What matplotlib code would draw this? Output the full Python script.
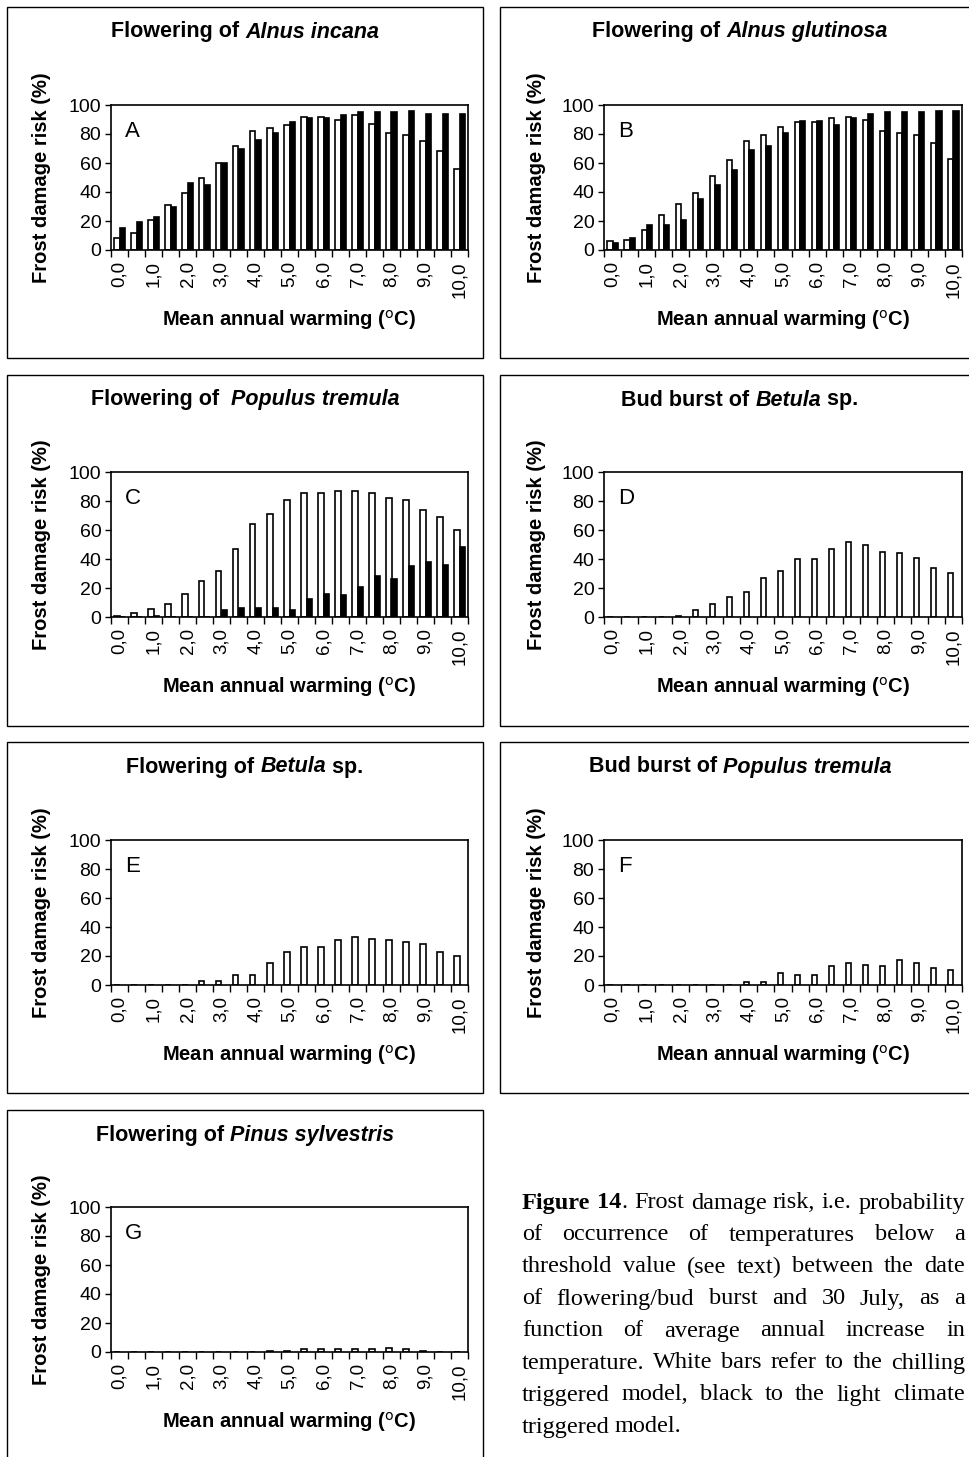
import matplotlib.pyplot as plt
from matplotlib.offsetbox import TextArea, HPacker, AnchoredOffsetbox
from matplotlib.patches import Rectangle

plt.rcParams['font.family'] = ['Liberation Sans', 'DejaVu Sans']

# mean annual warming, degC (21 categories)
warming = [0.0, 0.5, 1.0, 1.5, 2.0, 2.5, 3.0, 3.5, 4.0, 4.5, 5.0,
           5.5, 6.0, 6.5, 7.0, 7.5, 8.0, 8.5, 9.0, 9.5, 10.0]
tick_labels = ['0,0', '', '1,0', '', '2,0', '', '3,0', '', '4,0', '', '5,0',
               '', '6,0', '', '7,0', '', '8,0', '', '9,0', '', '10,0']

# white = chilling triggered model, black = light climate triggered model
alnus_inc_white = [8, 12, 21, 31, 39, 50, 60, 72, 82, 84, 86, 92, 92, 90, 93, 87, 81, 79, 75, 68, 56]
alnus_inc_black = [15, 19, 23, 30, 46, 45, 60, 70, 76, 81, 88, 91, 91, 93, 95, 95, 95, 96, 94, 94, 94]
alnus_glu_white = [6, 7, 14, 24, 32, 39, 51, 62, 75, 79, 85, 88, 88, 91, 92, 90, 82, 81, 79, 74, 63]
alnus_glu_black = [5, 8, 17, 17, 21, 35, 45, 55, 69, 72, 81, 89, 89, 86, 91, 94, 95, 95, 95, 96, 96]
populus_fl_white = [1, 3, 5.5, 9, 16, 24.5, 31.5, 47, 64, 71, 80.5, 85.5, 85.5, 87, 87, 85.5, 82, 80.5, 73.5, 69, 60]
populus_fl_black = [0, 0, 0.5, 0, 0, 0, 5, 6.5, 6.5, 6.5, 5, 12.5, 16, 15, 21, 28, 26.5, 35, 38, 36, 48]
betula_bud_white = [0, 0, 0, 0, 1, 4.5, 9, 14, 17.5, 27, 32, 40, 40, 47, 52, 50, 45, 44, 41, 34, 30.5]
betula_fl_white = [0, 0, 0, 0, 0, 3, 3, 7, 7, 15, 22.5, 26, 26, 31, 33, 32, 31, 29.5, 28.5, 22.5, 20]
populus_bud_white = [0, 0, 0, 0, 0, 0, 0, 0, 2, 2, 8, 7, 7, 13, 15, 14, 13, 17.5, 15, 12, 10.5]
pinus_fl_white = [0, 0, 0, 0, 0, 0, 0, 0, 0, 1, 1, 2, 2, 2, 2, 2, 3, 2, 1, 0, 0]

W, H = 969, 1457
fig = plt.figure(figsize=(W / 100, H / 100), dpi=100)


def fx(px):
    return px / W


def fy(py):
    return 1 - py / H


panels = [
    ('A', 'Flowering of ', 'Alnus incana', '', alnus_inc_white, alnus_inc_black, 0, 0),
    ('B', 'Flowering of ', 'Alnus glutinosa', '', alnus_glu_white, alnus_glu_black, 1, 0),
    ('C', 'Flowering of  ', 'Populus tremula', '', populus_fl_white, populus_fl_black, 0, 1),
    ('D', 'Bud burst of ', 'Betula', ' sp.', betula_bud_white, None, 1, 1),
    ('E', 'Flowering of ', 'Betula', ' sp.', betula_fl_white, None, 0, 2),
    ('F', 'Bud burst of ', 'Populus tremula', '', populus_bud_white, None, 1, 2),
    ('G', 'Flowering of ', 'Pinus sylvestris', '', pinus_fl_white, None, 0, 3),
]

ax_lr = [(111, 468), (604, 962)]
frame_lr = [(7, 483), (500, 1005)]
row_top = [105, 472, 840, 1207]
frame_tb = [(7, 358), (375, 726), (742, 1093), (1110, 1475)]
ylab_x = [42, 536]
ax_h = 145

for letter, t1, t2, t3, white, black, col, row in panels:
    l, r = ax_lr[col]
    top = row_top[row]
    # panel frame
    fl, fr = frame_lr[col]
    ft, fb = frame_tb[row]
    fig.patches.append(Rectangle((fx(fl), fy(fb)), fx(fr) - fx(fl), fy(ft) - fy(fb),
                                 transform=fig.transFigure, fill=False,
                                 edgecolor='black', linewidth=1.0))

    ax = fig.add_axes([fx(l), fy(top + ax_h), fx(r) - fx(l), ax_h / H])
    pos = list(range(len(warming)))
    wpos = [p - 0.15 for p in pos]
    ax.bar(wpos, white, width=0.3, color='white', edgecolor='black', linewidth=1.2)
    if black is not None:
        bpos = [p + 0.15 for p in pos]
        ax.bar(bpos, black, width=0.3, color='black', edgecolor='black', linewidth=1.2)

    ax.set_xlim(-0.5, len(warming) - 0.5)
    ax.set_ylim(0, 100)
    ax.set_yticks([0, 20, 40, 60, 80, 100])
    ax.tick_params(axis='y', direction='out', length=4, width=1, labelsize=14, pad=3)
    ax.set_xticks(pos)
    ax.set_xticklabels(tick_labels, rotation=90, fontsize=13.5)
    ax.tick_params(axis='x', which='major', length=0, pad=8)
    ax.set_xticks([p - 0.5 for p in range(len(warming) + 1)], minor=True)
    ax.tick_params(axis='x', which='minor', direction='out', length=5, width=1)
    for s in ax.spines.values():
        s.set_linewidth(1.2)

    ax.text(0.04, 0.82, letter, transform=ax.transAxes, fontsize=16,
            ha='left', va='center')

    # title with italic species name
    tp = dict(fontsize=15.5, fontweight='bold')
    parts = [TextArea(t1, textprops=tp),
             TextArea(t2, textprops=dict(tp, fontstyle='italic'))]
    if t3:
        parts.append(TextArea(t3, textprops=tp))
    box = HPacker(children=parts, align='baseline', pad=0, sep=0)
    anch = AnchoredOffsetbox(loc='center', child=box, frameon=False, pad=0,
                             bbox_to_anchor=(fx((fl + min(fr, 980)) / 2), fy(ft + 25)),
                             bbox_transform=fig.transFigure, borderpad=0)
    fig.add_artist(anch)

    fig.text(fx(ylab_x[col]), fy(top + ax_h / 2), 'Frost damage risk (%)',
             rotation=90, ha='center', va='center', fontsize=14.5, fontweight='bold')
    fig.text(fx((l + r) / 2), fy(top + 215), 'Mean annual warming ($^{\\rm o}$C)',
             ha='center', va='center', fontsize=14.5, fontweight='bold')

# caption, justified between x=522 and x=965
caption_lines = [
    'Figure 14. Frost damage risk, i.e. probability',
    'of occurrence of temperatures below a',
    'threshold value (see text) between the date',
    'of flowering/bud burst and 30 July, as a',
    'function of average annual increase in',
    'temperature. White bars refer to the chilling',
    'triggered model, black to the light climate',
    'triggered model.',
]
cap_left, cap_right = 522, 965
cap_font = dict(fontsize=17.5, family='Liberation Serif')
renderer = fig.canvas.get_renderer()


def word_parts(i, j, w):
    # "Figure 14" is bold, the dot after 14 is not
    if i == 0 and j == 0:
        return [(w, 'bold')]
    if i == 0 and j == 1:
        return [('14', 'bold'), ('.', 'normal')]
    return [(w, 'normal')]


for i, line in enumerate(caption_lines):
    y = fy(1203 + i * 32)
    words = line.split(' ')
    items = []
    for j, w in enumerate(words):
        pieces = []
        for txt, wt in word_parts(i, j, w):
            t = fig.text(0, y, txt, ha='left', va='center', fontweight=wt, **cap_font)
            wd = t.get_window_extent(renderer).width
            pieces.append((t, wd))
        items.append(pieces)
    widths = [sum(wd for _, wd in p) for p in items]
    if i < len(caption_lines) - 1:
        gap = (cap_right - cap_left - sum(widths)) / (len(words) - 1)
    else:
        gap = 4.5
    x = cap_left
    for pieces, wsum in zip(items, widths):
        px = x
        for t, wd in pieces:
            t.set_x(fx(px))
            px += wd
        x += wsum + gap

fig.savefig('out.png', dpi=100)
